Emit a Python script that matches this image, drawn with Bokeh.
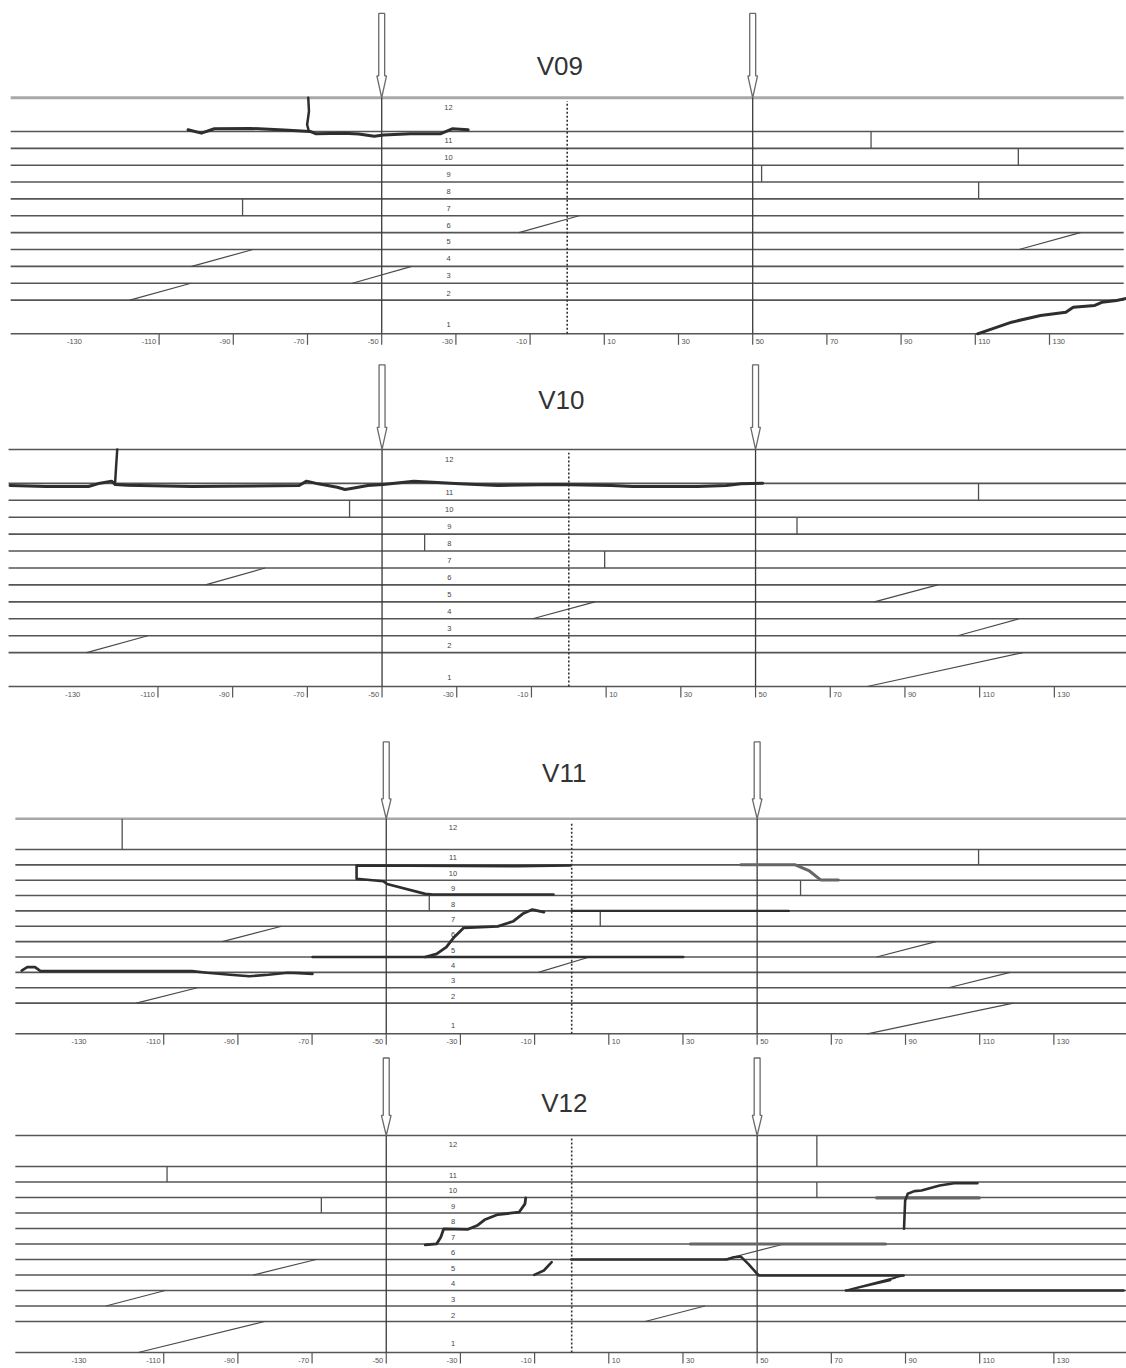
from bokeh.plotting import figure
from bokeh.layouts import column
from bokeh.models import Range1d
from bokeh.core.properties import value
from bokeh.embed import file_html
from bokeh.resources import INLINE

# ---------------- shared data ----------------
BEAM_X = [-150, 150]
GRID_Y = [0, 2, 3, 4, 5, 6, 7, 8, 9, 10, 11, 12, 14]
ROW_LABELS = ["1", "2", "3", "4", "5", "6", "7", "8", "9", "10", "11", "12"]
ROW_LABEL_Y = [0.55, 2.4, 3.45, 4.45, 5.45, 6.45, 7.45, 8.45, 9.45, 10.45, 11.45, 13.4]
ROW_LABEL_X = -32
XTICKS = [-130, -110, -90, -70, -50, -30, -10, 10, 30, 50, 70, 90, 110, 130]
XTICK_LABELS = ["-130", "-110", "-90", "-70", "-50", "-30", "-10",
                "10", "30", "50", "70", "90", "110", "130"]
XTICK_BAR = [False, True, True, True, True, True, True,
             True, True, True, True, True, True, True]
LOAD_X = [-50, 50]
AXIS_X = 0
ARROW_TOP, ARROW_HEAD, ARROW_TIP = 19.0, 15.3, 14.0

# ---------------- V09 ----------------
v09_vert_x = [-87.5, 81.9, 121.6, 52.4, 110.9]
v09_vert_y0 = [7, 11, 10, 9, 8]
v09_vert_y1 = [8, 12, 11, 10, 9]
v09_diag_x0 = [-13.0, -101.2, -117.9, -57.9, 121.8]
v09_diag_y0 = [6, 4, 2, 3, 5]
v09_diag_x1 = [3.2, -84.7, -101.4, -41.9, 138.3]
v09_diag_y1 = [7, 5, 3, 4, 6]
v09_crack_a_x = [-102.2, -98.6, -95.1, -85.4, -76.3, -69.3, -67.7, -60.2, -56.2, -52.0, -49.5, -42.2, -34.2, -31.0, -26.7]
v09_crack_a_y = [12.1, 11.9, 12.16, 12.18, 12.09, 12.0, 11.86, 11.9, 11.85, 11.72, 11.79, 11.86, 11.86, 12.16, 12.1]
v09_crack_b_x = [-69.8, -69.6, -70.1, -69.6]
v09_crack_b_y = [14.0, 13.2, 12.4, 12.0]
v09_crack_c_x = [110.6, 119.8, 127.6, 134.4, 136.4, 142.2, 144.1, 148.1, 150.8]
v09_crack_c_y = [0.0, 0.69, 1.09, 1.28, 1.58, 1.68, 1.87, 1.98, 2.1]

# ---------------- V10 ----------------
v10_vert_x = [-58.7, -38.6, 109.7, 61.1, 9.6]
v10_vert_y0 = [10, 8, 11, 9, 7]
v10_vert_y1 = [11, 9, 12, 10, 8]
v10_diag_x0 = [-97.3, -129.1, -9.7, 81.8, 104.1, 79.9]
v10_diag_y0 = [6, 2, 4, 5, 3, 0]
v10_diag_x1 = [-81.3, -112.7, 7.0, 98.8, 120.5, 121.6]
v10_diag_y1 = [7, 3, 5, 6, 4, 2]
v10_crack_a_x = [-149.6, -139.9, -128.6, -125.5, -122.4, -121.4, -118.3, -100.9, -72.2, -70.2, -67.1, -62.0, -59.9,
                 -57.9, -53.8, -49.7, -41.5, -36.4, -29.2, -19.0, -3.6, 11.3, 17.1, 34.5, 42.2, 46.1, 51.9]
v10_crack_a_y = [11.87, 11.81, 11.81, 12.01, 12.13, 11.93, 11.89, 11.81, 11.87, 12.13, 11.97, 11.77, 11.64,
                 11.71, 11.87, 11.93, 12.13, 12.07, 11.97, 11.87, 11.93, 11.87, 11.81, 11.81, 11.87, 11.97, 12.01]
v10_crack_b_x = [-120.9, -121.2, -121.5]
v10_crack_b_y = [14.0, 13.0, 11.93]

# ---------------- V11 ----------------
v11_vert_x = [-121.2, -38.4, 109.7, 61.7, 7.7]
v11_vert_y0 = [12, 8, 11, 9, 7]
v11_vert_y1 = [14, 9, 12, 10, 8]
v11_diag_x0 = [-94.2, -117.4, -9.0, 82.2, 101.6, 79.7]
v11_diag_y0 = [6, 2, 4, 5, 3, 0]
v11_diag_x1 = [-78.2, -100.9, 4.8, 98.2, 118.2, 119.1]
v11_diag_y1 = [7, 3, 5, 6, 4, 2]
v11_crack_a_x = [-0.3, -14.7, -58.0, -58.0, -50.8, -49.8, -39.5, -37.4, -4.9]
v11_crack_a_y = [10.96, 10.91, 10.96, 10.09, 9.93, 9.76, 9.11, 9.07, 9.07]
v11_crack_b_x = [-39.5, -36.4, -33.8, -31.7, -29.1, -19.9, -15.7, -13.2, -10.6, -7.5]
v11_crack_b_y = [5.0, 5.2, 5.64, 6.29, 6.9, 6.99, 7.33, 7.81, 8.09, 7.92]
v11_crack_c_x = [-148.3, -146.8, -144.7, -143.2, -102.4, -98.3, -92.1, -86.9, -81.8, -76.6, -73.5, -69.9]
v11_crack_c_y = [4.12, 4.34, 4.34, 4.08, 4.08, 3.97, 3.84, 3.75, 3.84, 3.97, 3.95, 3.9]
v11_crack_d_x = [-69.9, 30.1]
v11_crack_d_y = [5.0, 5.0]
v11_crack_e_x = [0.0, 58.5]
v11_crack_e_y = [8.0, 8.0]
v11_crack_f_x = [45.6, 60.3, 64.1, 67.1, 71.9]
v11_crack_f_y = [11.0, 11.0, 10.6, 10.02, 10.02]

# ---------------- V12 ----------------
v12_vert_x = [-109.1, -67.5, 66.1, 66.1]
v12_vert_y0 = [11, 9, 12, 10]
v12_vert_y1 = [12, 10, 14, 11]
v12_diag_x0 = [-85.9, -125.6, -116.9, 19.8, 41.0]
v12_diag_y0 = [5, 3, 0, 2, 6]
v12_diag_x1 = [-68.9, -109.6, -82.8, 35.9, 57.3]
v12_diag_y1 = [6, 4, 2, 3, 7]
v12_crack_a_x = [-39.5, -36.4, -35.3, -34.5, -28.1, -25.5, -23.5, -19.9, -14.2, -12.6, -12.4]
v12_crack_a_y = [6.95, 7.01, 7.44, 7.98, 7.94, 8.19, 8.56, 8.9, 9.05, 9.59, 9.98]
v12_crack_b_x = [-10.1, -7.5, -5.4]
v12_crack_b_y = [5.01, 5.29, 5.83]
v12_crack_c_x = [-0.1, 41.8, 43.7, 45.6, 47.6, 50.0, 50.5, 89.5]
v12_crack_c_y = [6.0, 6.0, 6.15, 6.19, 5.72, 5.08, 4.97, 4.97]
v12_crack_d_x = [89.5, 74.5, 88.5, 75.0, 87.5, 76.0, 86.0, 74.0]
v12_crack_d_y = [4.97, 4.05, 4.92, 4.08, 4.82, 4.1, 4.65, 4.0]
v12_crack_e_x = [73.9, 148.8]
v12_crack_e_y = [4.0, 4.0]
v12_crack_f_x = [89.6, 89.9, 90.6, 92.4, 94.3, 99.2, 103.1, 109.4]
v12_crack_f_y = [7.98, 9.8, 10.24, 10.41, 10.45, 10.77, 10.92, 10.92]
v12_crack_g_x = [32.0, 84.6]
v12_crack_g_y = [7.0, 7.0]
v12_crack_h_x = [82.2, 109.9]
v12_crack_h_y = [9.98, 9.98]

# ---------------- layout (page pixels) ----------------
FIG_W = 1126
PAGE_L, PAGE_R = 0, 1126
PANELS = [
    dict(title="V09", cx=566.7, s=3.71, base=333.3, unit=16.86, top=0, bot=352, title_y=15.9,
         top_color="#a8a8a8", top_w=3.0,
         vert=(v09_vert_x, v09_vert_y0, v09_vert_y1),
         diag=(v09_diag_x0, v09_diag_y0, v09_diag_x1, v09_diag_y1),
         dark=[(v09_crack_a_x, v09_crack_a_y, 3.0), (v09_crack_b_x, v09_crack_b_y, 2.5),
               (v09_crack_c_x, v09_crack_c_y, 3.0)],
         grey=[]),
    dict(title="V10", cx=568.3, s=3.735, base=686.0, unit=16.93, top=352, bot=706, title_y=16.9,
         top_color="#555555", top_w=1.6,
         vert=(v10_vert_x, v10_vert_y0, v10_vert_y1),
         diag=(v10_diag_x0, v10_diag_y0, v10_diag_x1, v10_diag_y1),
         dark=[(v10_crack_a_x, v10_crack_a_y, 3.0), (v10_crack_b_x, v10_crack_b_y, 2.5)],
         grey=[]),
    dict(title="V11", cx=571.2, s=3.709, base=1033.3, unit=15.36, top=706, bot=1048, title_y=17.0,
         top_color="#a8a8a8", top_w=2.6,
         vert=(v11_vert_x, v11_vert_y0, v11_vert_y1),
         diag=(v11_diag_x0, v11_diag_y0, v11_diag_x1, v11_diag_y1),
         dark=[(v11_crack_a_x, v11_crack_a_y, 2.6), (v11_crack_b_x, v11_crack_b_y, 2.8),
               (v11_crack_c_x, v11_crack_c_y, 2.6), (v11_crack_d_x, v11_crack_d_y, 2.4),
               (v11_crack_e_x, v11_crack_e_y, 2.4)],
         grey=[(v11_crack_f_x, v11_crack_f_y, 3.0)]),
    dict(title="V12", cx=571.2, s=3.709, base=1352.0, unit=15.5, top=1048, bot=1366, title_y=16.1,
         top_color="#555555", top_w=1.6,
         vert=(v12_vert_x, v12_vert_y0, v12_vert_y1),
         diag=(v12_diag_x0, v12_diag_y0, v12_diag_x1, v12_diag_y1),
         dark=[(v12_crack_a_x, v12_crack_a_y, 2.8), (v12_crack_b_x, v12_crack_b_y, 2.6),
               (v12_crack_c_x, v12_crack_c_y, 2.6), (v12_crack_d_x, v12_crack_d_y, 1.6),
               (v12_crack_e_x, v12_crack_e_y, 2.4), (v12_crack_f_x, v12_crack_f_y, 2.6)],
         grey=[(v12_crack_g_x, v12_crack_g_y, 3.2), (v12_crack_h_x, v12_crack_h_y, 3.2)]),
]

FONT = value("Liberation Sans")
LINE_C = "#555555"
CRACK_C = "#2e2e2e"


def build(pn):
    cx, s, unit, base = pn["cx"], pn["s"], pn["unit"], pn["base"]
    xr = Range1d((PAGE_L - cx) / s, (PAGE_R - cx) / s)
    yr = Range1d((base - pn["bot"]) / unit, (base - pn["top"]) / unit)
    p = figure(width=FIG_W, height=pn["bot"] - pn["top"], x_range=xr, y_range=yr,
               output_backend="svg", toolbar_location=None, min_border=0,
               x_axis_location=None, y_axis_location=None,
               outline_line_color=None, background_fill_color="white",
               border_fill_color="white")
    p.grid.visible = False

    # horizontal measurement lines
    inner = GRID_Y[:-1]
    p.segment(x0=[BEAM_X[0]] * len(inner), x1=[BEAM_X[1]] * len(inner), y0=inner, y1=inner,
              line_color=LINE_C, line_width=1.6)
    p.segment(x0=[BEAM_X[0]], x1=[BEAM_X[1]], y0=[GRID_Y[-1]], y1=[GRID_Y[-1]],
              line_color=pn["top_color"], line_width=pn["top_w"])

    # centre (dotted) axis
    p.segment(x0=[AXIS_X], x1=[AXIS_X], y0=[GRID_Y[0]], y1=[GRID_Y[-1] - 0.2],
              line_color="#333333", line_width=1.6, line_dash="2 2")

    # load lines + arrows
    p.segment(x0=LOAD_X, x1=LOAD_X, y0=[GRID_Y[0]] * 2, y1=[GRID_Y[-1]] * 2,
              line_color="#3a3a3a", line_width=1.3)
    hw, hh = 0.8, 1.3
    axs = [[x - hw, x + hw, x + hw, x + hh, x, x - hh, x - hw] for x in LOAD_X]
    ays = [[ARROW_TOP, ARROW_TOP, ARROW_HEAD, ARROW_HEAD, ARROW_TIP, ARROW_HEAD, ARROW_HEAD] for _ in LOAD_X]
    p.patches(xs=axs, ys=ays, fill_color="white", line_color="#6a6a6a", line_width=1.3)

    # x ticks and labels
    tick_len = 11.0 / unit
    bx = [t for t, b in zip(XTICKS, XTICK_BAR) if b]
    p.segment(x0=bx, x1=bx, y0=[0] * len(bx), y1=[-tick_len] * len(bx),
              line_color="#555555", line_width=1.2)
    neg = [(t, l) for t, l in zip(XTICKS, XTICK_LABELS) if t < 0]
    pos = [(t, l) for t, l in zip(XTICKS, XTICK_LABELS) if t > 0]
    ly = -7.5 / unit
    p.text(x=[t for t, _ in neg], y=[ly] * len(neg), text=[l for _, l in neg],
           text_align="right", text_baseline="middle", x_offset=-3,
           text_font=FONT, text_font_size="7.5px", text_color="#555555")
    p.text(x=[t for t, _ in pos], y=[ly] * len(pos), text=[l for _, l in pos],
           text_align="left", text_baseline="middle", x_offset=3,
           text_font=FONT, text_font_size="7.5px", text_color="#555555")

    # row labels
    p.text(x=[ROW_LABEL_X] * len(ROW_LABELS), y=ROW_LABEL_Y, text=ROW_LABELS,
           text_align="center", text_baseline="middle",
           text_font=FONT, text_font_size="7.5px", text_color="#444444")

    # short vertical cracks
    vx, vy0, vy1 = pn["vert"]
    p.segment(x0=vx, x1=vx, y0=vy0, y1=vy1, line_color="#505050", line_width=1.3)

    # inclined cracks
    dx0, dy0, dx1, dy1 = pn["diag"]
    p.segment(x0=dx0, y0=dy0, x1=dx1, y1=dy1, line_color="#4a4a4a", line_width=1.2)

    # main cracks
    for xs, ys, w in pn["grey"]:
        p.line(xs, ys, line_color="#666666", line_width=w, line_join="round", line_cap="round")
    for xs, ys, w in pn["dark"]:
        p.line(xs, ys, line_color=CRACK_C, line_width=w, line_join="round", line_cap="round")

    # title
    p.text(x=[-2], y=[pn["title_y"]], text=[pn["title"]], text_align="center",
           text_baseline="middle", text_font=FONT, text_font_size="26px", text_color="#333333")
    return p


figs = [build(pn) for pn in PANELS]
layout = column(*figs, spacing=0)
open("out.html", "w").write(file_html(layout, INLINE))
